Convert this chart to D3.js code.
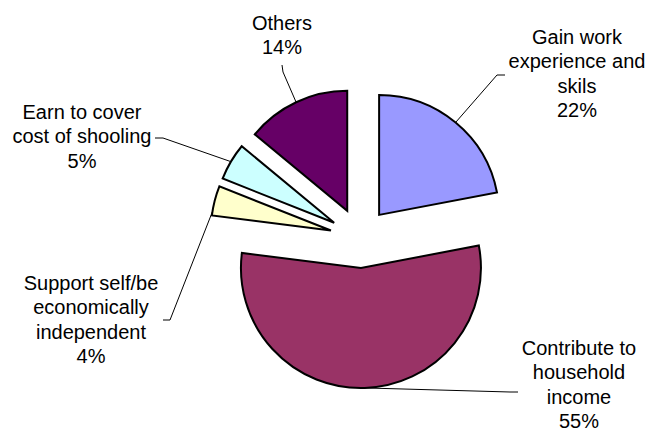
<!DOCTYPE html>
<html>
<head>
<meta charset="utf-8">
<script src="https://cdn.jsdelivr.net/npm/d3@7"></script>
<style>
  html, body { margin: 0; padding: 0; background: #fff; }
  svg { display: block; }
  text { font-family: "Liberation Sans", Arial, sans-serif; font-size: 20px; fill: #000; }
</style>
</head>
<body>
<svg id="chart" width="647" height="433"></svg>
<script>
// Reasons for working, share of respondents (%)
const categories = [
  "Gain work experience and skils",
  "Contribute to household income",
  "Support self/be economically independent",
  "Earn to cover cost of shooling",
  "Others"
];
const values = [22, 55, 4, 5, 14];
const labelLines = [
  ["Gain work", "experience and", "skils"],
  ["Contribute to", "household", "income"],
  ["Support self/be", "economically", "independent"],
  ["Earn to cover", "cost of shooling"],
  ["Others"]
];
const colors = ["#9999FF", "#993366", "#FFFFCC", "#CCFFFF", "#660066"];

// Layout: pie centre, radius, explode distance
const cx = 360, cy = 238, R = 120, explode = 30;
const lineH = 24.3;

// Label placement: text centre x, first baseline, leader elbow points,
// and where along the slice's arc (0..1) the leader attaches.
const labelLayout = [
  { x: 577, y: 44,  elbow: [[505, 75], [497, 75]],   at: 0.5 },
  { x: 579, y: 355, elbow: [[518, 392], [510, 392]], at: 0.5 },
  { x: 91,  y: 290, elbow: [[163, 320], [170, 320]], at: 0.13 },
  { x: 82,  y: 119, elbow: [[155, 138], [163, 138]], at: 0.5 },
  { x: 282, y: 30,  elbow: [[282, 65], [283, 72]],   at: 0.5 }
];

const svg = d3.select("#chart");
const g = svg.append("g").attr("transform", `translate(${cx},${cy})`);

const pie = d3.pie().sort(null).value(d => d).startAngle(0).endAngle(2 * Math.PI);
const arcs = pie(values);
const arc = d3.arc().innerRadius(0).outerRadius(R);

function offsetOf(a) {
  const mid = (a.startAngle + a.endAngle) / 2;
  return [explode * Math.sin(mid), -explode * Math.cos(mid)];
}

// Slices, each pushed out along its mid angle
g.selectAll("path.slice")
  .data(arcs)
  .join("path")
  .attr("class", "slice")
  .attr("d", arc)
  .attr("transform", d => { const o = offsetOf(d); return `translate(${o[0]},${o[1]})`; })
  .attr("fill", (d, i) => colors[i])
  .attr("stroke", "#000")
  .attr("stroke-width", 2)
  .attr("stroke-linejoin", "miter");

// Leader lines from label elbow to the slice's outer edge
arcs.forEach((a, i) => {
  const L = labelLayout[i];
  const o = offsetOf(a);
  const ang = a.startAngle + (a.endAngle - a.startAngle) * L.at;
  const px = cx + o[0] + R * Math.sin(ang);
  const py = cy + o[1] - R * Math.cos(ang);
  const pts = [...L.elbow, [px, py]];
  svg.append("path")
    .attr("d", d3.line()(pts))
    .attr("fill", "none")
    .attr("stroke", "#000")
    .attr("stroke-width", 1);
});

// Labels: category lines plus percentage
arcs.forEach((a, i) => {
  const L = labelLayout[i];
  const lines = [...labelLines[i], `${values[i]}%`];
  const t = svg.append("text")
    .attr("text-anchor", "middle")
    .attr("x", L.x)
    .attr("y", L.y);
  lines.forEach((s, k) => {
    t.append("tspan").attr("x", L.x).attr("y", L.y + k * lineH).text(s);
  });
});
</script>
</body>
</html>
